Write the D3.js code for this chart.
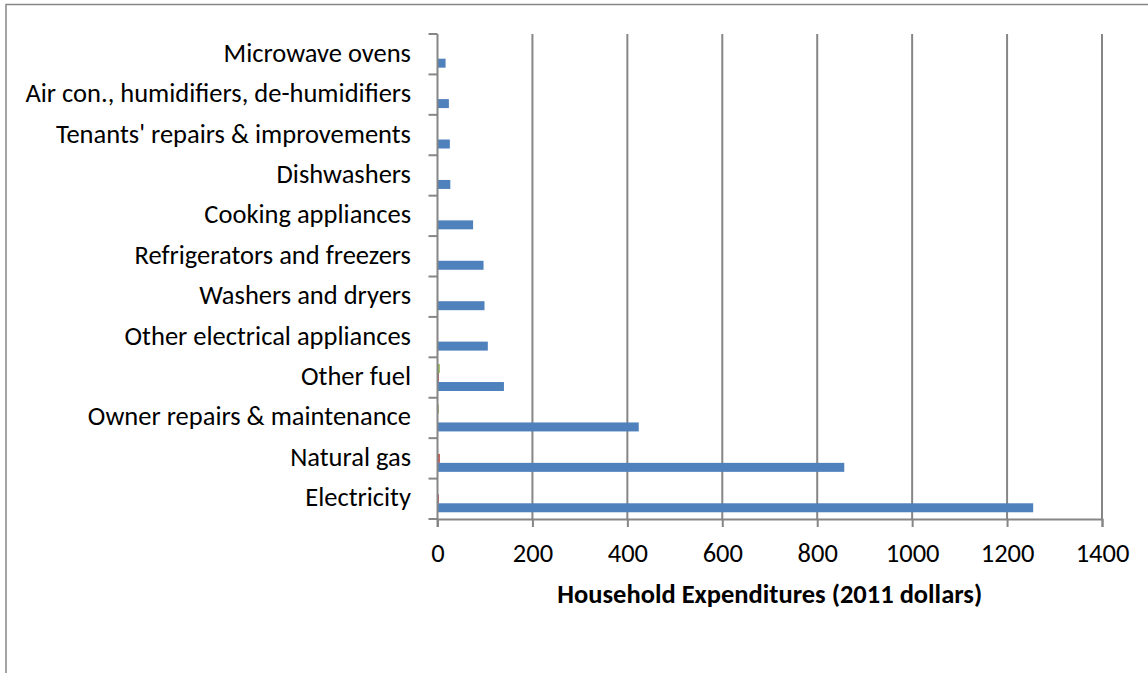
<!DOCTYPE html>
<html>
<head>
<meta charset="utf-8">
<script src="https://cdn.jsdelivr.net/npm/d3@7"></script>
<style>
  html, body { margin: 0; padding: 0; background: #fff; }
  svg { display: block; }
  text { font-family: Carlito, Lato, "Liberation Sans", sans-serif; fill: #000; }
</style>
</head>
<body>
<div id="chart"></div>
<script>
// Household spending categories, listed from the top of the chart down
const categories = [
  "Microwave ovens",
  "Air con., humidifiers, de-humidifiers",
  "Tenants' repairs & improvements",
  "Dishwashers",
  "Cooking appliances",
  "Refrigerators and freezers",
  "Washers and dryers",
  "Other electrical appliances",
  "Other fuel",
  "Owner repairs & maintenance",
  "Natural gas",
  "Electricity"
];

// Three expenditure series (2011 dollars), same order as categories
const seriesBlue  = [17, 24, 26, 27, 75, 97, 99, 106, 140, 424, 857, 1255];
const seriesRed   = [0, 0, 0, 0, 0, 0, 0, 0, 3, 1, 5, 3];
const seriesGreen = [0, 0, 0, 0, 0, 0, 0, 0, 5, 3, 1, 1];

const xTicks = [0, 200, 400, 600, 800, 1000, 1200, 1400];
const xTitle = "Household Expenditures (2011 dollars)";

const W = 1148, H = 673;
const plot = { left: 437.5, right: 1102, top: 34, bottom: 519 };
const gray = "#868686";
const fontSize = 26.5;

const series = [
  { key: "green", color: "#9BBB59", values: seriesGreen },
  { key: "red",   color: "#C0504D", values: seriesRed },
  { key: "blue",  color: "#4F81BD", values: seriesBlue }
];

const svg = d3.select("#chart").append("svg")
  .attr("width", W).attr("height", H);

// Chart-area border (runs off the right and bottom edges)
svg.append("path")
  .attr("d", `M6,${H + 5} L6,4.5 L${W + 5},4.5`)
  .attr("fill", "none")
  .attr("stroke", gray)
  .attr("stroke-width", 1.5);

const x = d3.scaleLinear().domain([0, 1400]).range([plot.left, plot.right]);
const y = d3.scaleBand().domain(categories).range([plot.top, plot.bottom]).padding(0);
const yInner = d3.scaleBand()
  .domain(series.map(s => s.key))
  .range([0, y.bandwidth()])
  .paddingInner(0)
  .paddingOuter(0.75);

// Vertical gridlines
svg.append("g").selectAll("line")
  .data(xTicks.filter(t => t > 0))
  .join("line")
  .attr("x1", d => x(d)).attr("x2", d => x(d))
  .attr("y1", plot.top).attr("y2", plot.bottom)
  .attr("stroke", gray).attr("stroke-width", 2);

// Bars
const groups = svg.append("g").selectAll("g")
  .data(categories)
  .join("g")
  .attr("transform", d => `translate(0,${y(d)})`);

groups.selectAll("rect")
  .data((c, i) => series.map(s => ({ key: s.key, color: s.color, value: s.values[i] })))
  .join("rect")
  .attr("x", x(0))
  .attr("y", d => yInner(d.key))
  .attr("width", d => x(d.value) - x(0))
  .attr("height", yInner.bandwidth())
  .attr("fill", d => d.color);

// Bottom axis
const xAxis = svg.append("g")
  .attr("transform", `translate(0,${plot.bottom})`)
  .call(d3.axisBottom(x).tickValues(xTicks).tickSize(8).tickPadding(14).tickFormat(d3.format("d")));
xAxis.select(".domain").attr("stroke", gray).attr("stroke-width", 2);
xAxis.selectAll(".tick line").attr("stroke", gray).attr("stroke-width", 2);
xAxis.selectAll(".tick text")
  .attr("y", 43)
  .attr("dy", null)
  .attr("font-size", fontSize)
  .attr("font-family", "Carlito, Lato, 'Liberation Sans', sans-serif")
  .attr("fill", "#000");

// Left axis: band boundary ticks and category labels
const yAxisG = svg.append("g");
yAxisG.append("line")
  .attr("x1", x(0)).attr("x2", x(0))
  .attr("y1", plot.top).attr("y2", plot.bottom + 8)
  .attr("stroke", gray).attr("stroke-width", 2);
const bounds = categories.map(c => y(c)).concat([plot.bottom]);
yAxisG.selectAll("line.tk")
  .data(bounds)
  .join("line")
  .attr("class", "tk")
  .attr("x1", x(0) - 9).attr("x2", x(0))
  .attr("y1", d => d).attr("y2", d => d)
  .attr("stroke", gray).attr("stroke-width", 2);
yAxisG.selectAll("text")
  .data(categories)
  .join("text")
  .attr("x", 411)
  .attr("y", d => y(d) + y.bandwidth() / 2 + 7.5)
  .attr("text-anchor", "end")
  .attr("font-size", fontSize)
  .text(d => d);

// Axis title
svg.append("text")
  .attr("x", (plot.left + plot.right) / 2)
  .attr("y", 603)
  .attr("text-anchor", "middle")
  .attr("font-size", fontSize)
  .attr("font-weight", "bold")
  .text(xTitle);
</script>
</body>
</html>
